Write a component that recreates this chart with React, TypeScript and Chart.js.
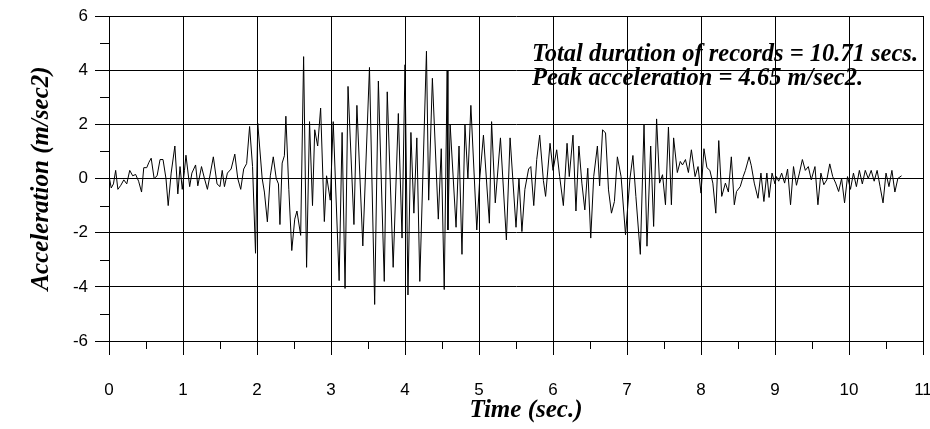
import React, { useEffect, useRef } from 'react';
import { Chart, registerables } from 'chart.js';

Chart.register(...registerables);

// Time of each recorded vertex (sec.)
const timeSec = [
  0.0, 0.03, 0.06, 0.09, 0.12, 0.16, 0.2, 0.24, 0.28, 0.32, 0.36, 0.4, 0.44, 0.47, 0.51, 0.54, 0.57, 0.61, 0.65, 0.69,
  0.73, 0.77, 0.8, 0.84, 0.89, 0.93, 0.96, 0.99, 1.02, 1.04, 1.09, 1.12, 1.17, 1.2, 1.25, 1.29, 1.33, 1.41, 1.46, 1.5,
  1.53, 1.56, 1.6, 1.65, 1.7, 1.74, 1.78, 1.82, 1.86, 1.9, 1.94, 1.98, 2.01, 2.07, 2.1, 2.14, 2.18, 2.22, 2.26, 2.29,
  2.31, 2.34, 2.37, 2.39, 2.43, 2.47, 2.51, 2.54, 2.59, 2.63, 2.67, 2.71, 2.75, 2.78, 2.82, 2.86, 2.91, 2.94, 2.99, 3.03,
  3.11, 3.15, 3.19, 3.23, 3.31, 3.35, 3.43, 3.52, 3.59, 3.64, 3.72, 3.76, 3.84, 3.91, 3.96, 4.0, 4.04, 4.08, 4.12, 4.16,
  4.2, 4.29, 4.32, 4.37, 4.45, 4.49, 4.53, 4.57, 4.58, 4.61, 4.69, 4.73, 4.77, 4.81, 4.85, 4.89, 4.97, 5.01, 5.06, 5.14,
  5.17, 5.22, 5.29, 5.37, 5.42, 5.5, 5.54, 5.58, 5.62, 5.67, 5.7, 5.74, 5.78, 5.82, 5.87, 5.9, 5.96, 6.0, 6.05, 6.09,
  6.14, 6.19, 6.22, 6.27, 6.31, 6.35, 6.39, 6.43, 6.47, 6.51, 6.55, 6.6, 6.63, 6.67, 6.71, 6.75, 6.79, 6.83, 6.87, 6.92,
  6.98, 7.04, 7.08, 7.12, 7.18, 7.23, 7.27, 7.32, 7.36, 7.4, 7.44, 7.48, 7.52, 7.56, 7.6, 7.63, 7.68, 7.72, 7.75, 7.79,
  7.83, 7.87, 7.92, 7.96, 8.0, 8.04, 8.08, 8.12, 8.16, 8.2, 8.24, 8.28, 8.33, 8.37, 8.41, 8.45, 8.48, 8.53, 8.57, 8.6,
  8.65, 8.68, 8.72, 8.77, 8.81, 8.85, 8.89, 8.92, 8.96, 9.0, 9.02, 9.05, 9.09, 9.13, 9.17, 9.21, 9.25, 9.29, 9.33, 9.37,
  9.41, 9.45, 9.49, 9.54, 9.58, 9.62, 9.66, 9.7, 9.74, 9.78, 9.82, 9.86, 9.9, 9.94, 9.98, 10.02, 10.06, 10.1, 10.14, 10.18,
  10.22, 10.26, 10.3, 10.34, 10.38, 10.42, 10.46, 10.5, 10.54, 10.58, 10.62, 10.66, 10.71,
];

// Ground acceleration at each vertex (m/sec2)
const accel = [
  0.1, -0.35, -0.2, 0.3, -0.4, -0.25, -0.05, -0.2, 0.3, 0.1, 0.15, -0.1, -0.5, 0.4, 0.4, 0.6, 0.75, 0.0, 0.1, 0.7,
  0.7, 0.0, -1.0, 0.2, 1.2, -0.57, 0.44, -0.4, 0.3, 0.86, -0.3, 0.2, 0.5, -0.27, 0.44, 0.0, -0.4, 0.8, -0.2, -0.3,
  0.3, -0.3, 0.2, 0.35, 0.9, 0.0, -0.4, 0.35, 0.55, 1.92, 0.44, -2.76, 2.04, 0.0, -0.5, -1.6, 0.1, 0.8, 0.0, -0.2,
  -1.7, 0.57, 0.84, 2.3, -0.4, -2.66, -1.5, -1.2, -2.1, 4.5, -3.28, 2.1, -1.0, 1.8, 1.2, 2.6, -1.59, 0.1, -0.8, 2.1,
  -3.77, 1.7, -4.06, 3.4, -1.7, 2.7, -2.49, 4.1, -4.65, 3.6, -3.8, 3.2, -3.28, 2.4, -2.2, 4.2, -4.3, 1.7, -1.28, 1.5,
  -3.8, 4.7, -0.8, 3.7, -1.5, 1.1, -4.1, 4.0, -1.9, 2.0, -1.8, 1.2, -2.8, 2.0, 0.0, 2.7, -1.9, 0.0, 1.6, -1.65,
  2.1, -0.9, 1.5, -2.27, 1.5, -1.8, 0.0, -1.96, -0.4, 0.35, 0.44, -1.0, 0.7, 1.6, -0.07, -0.66, 1.3, 0.3, 1.06, 0.07,
  -1.0, 1.3, 0.07, 1.6, -1.2, 1.2, -0.17, -1.16, 0.38, -2.2, 0.07, 1.2, -0.27, 1.8, 1.68, -0.42, -1.28, -0.85, 0.8, 0.07,
  -2.08, 0.0, 0.85, -0.66, -2.8, 2.0, -2.5, 1.2, -1.77, 2.2, -0.17, 0.14, -0.97, 1.9, -0.97, 1.5, 0.22, 0.63, 0.5, 0.7,
  0.22, 1.06, 0.07, 0.44, -0.54, 1.1, 0.4, 0.3, -0.17, -1.28, 1.4, -0.66, -0.17, -0.5, 0.8, -0.97, -0.48, -0.3, 0.07, 0.3,
  0.8, 0.47, -0.17, -0.73, 0.2, -0.85, 0.2, -0.7, 0.2, -0.2, 0.07, -0.1, 0.2, -0.17, 0.35, -0.97, 0.44, -0.25, 0.2, 0.7,
  0.3, 0.44, -0.05, 0.44, -0.97, 0.2, -0.23, -0.05, 0.54, 0.07, -0.17, -0.48, 0.0, -0.9, 0.07, -0.4, 0.2, -0.3, 0.3, -0.2,
  0.3, 0.0, 0.3, -0.1, 0.3, -0.3, -0.9, 0.2, -0.3, 0.3, -0.5, 0.0, 0.1,
];

const xMinorTicks = [0.5, 1.5, 2.5, 3.5, 4.5, 5.5, 6.5, 7.5, 8.5, 9.5, 10.5];
const yMinorTicks = [-5, -3, -1, 1, 3, 5];
const xTitle = 'Time (sec.)';
const yTitle = 'Acceleration (m/sec2)';
const noteLines = ['Total duration of records = 10.71 secs.', 'Peak acceleration = 4.65 m/sec2.'];

const SERIF = '"Liberation Serif", "Times New Roman", serif';

const overlay = {
  id: 'overlay',
  afterDraw(chart: any) {
    const { ctx, chartArea, scales } = chart;
    const xs = scales.x;
    const ys = scales.y;
    ctx.save();
    ctx.strokeStyle = '#000';
    ctx.lineWidth = 1;
    ctx.beginPath();
    for (const v of yMinorTicks) {
      const py = Math.round(ys.getPixelForValue(v)) + 0.5;
      ctx.moveTo(chartArea.left - 9, py);
      ctx.lineTo(chartArea.left, py);
    }
    for (const v of xMinorTicks) {
      const px = Math.round(xs.getPixelForValue(v)) + 0.5;
      ctx.moveTo(px, chartArea.bottom);
      ctx.lineTo(px, chartArea.bottom + 8);
    }
    ctx.stroke();
    ctx.fillStyle = '#000';
    // annotation
    ctx.font = 'italic bold 24.5px ' + SERIF;
    ctx.textAlign = 'left';
    ctx.textBaseline = 'alphabetic';
    ctx.fillText(noteLines[0], 532, 61);
    ctx.fillText(noteLines[1], 532, 85);
    // x axis title
    ctx.font = 'italic bold 25px ' + SERIF;
    ctx.textAlign = 'center';
    ctx.textBaseline = 'middle';
    ctx.fillText(xTitle, (chartArea.left + chartArea.right) / 2 + 10, 411);
    ctx.restore();
  },
};

export default function App() {
  const canvasRef = useRef<HTMLCanvasElement | null>(null);

  useEffect(() => {
    if (!canvasRef.current) return;
    const points = timeSec.map((t, i) => ({ x: t, y: accel[i] }));
    const tickFont = { family: '"Liberation Sans", Arial, sans-serif', size: 17 };
    const titleFont = { family: SERIF, size: 25, style: 'italic' as const, weight: 'bold' as const };
    const chart = new Chart(canvasRef.current, {
      type: 'line',
      data: {
        datasets: [
          {
            data: points,
            borderColor: '#000',
            borderWidth: 1,
            pointRadius: 0,
            tension: 0,
            fill: false,
          },
        ],
      },
      options: {
        animation: false,
        responsive: false,
        devicePixelRatio: 1,
        layout: { padding: { top: 16, right: 7, left: 0, bottom: 0 } },
        plugins: { legend: { display: false }, tooltip: { enabled: false } },
        scales: {
          x: {
            type: 'linear',
            min: 0,
            max: 11,
            ticks: { stepSize: 1, autoSkip: false, maxRotation: 0, color: '#000', font: tickFont, padding: 25 },
            grid: { color: '#000', lineWidth: 1, tickLength: 14, tickColor: '#000' },
            border: { display: true, color: '#000', width: 1 },
            title: { display: false },
            afterFit: (scale: any) => {
              scale.height = 88;
              scale.paddingLeft = 0;
              scale.paddingRight = 0;
            },
          },
          y: {
            min: -6,
            max: 6,
            ticks: { stepSize: 2, color: '#000', font: tickFont, padding: 7 },
            grid: { color: '#000', lineWidth: 1, tickLength: 14, tickColor: '#000' },
            border: { display: true, color: '#000', width: 1 },
            title: { display: true, text: yTitle, color: '#000', font: titleFont, padding: { top: 27, bottom: 0 } },
            afterFit: (scale: any) => {
              scale.width = 109;
              scale.paddingTop = 0;
              scale.paddingBottom = 0;
            },
          },
        },
      },
      plugins: [overlay],
    });
    return () => chart.destroy();
  }, []);

  return (
    <div style={{ position: 'absolute', left: 0, top: 0, width: 930, height: 429, background: '#fff' }}>
      <canvas ref={canvasRef} width={930} height={429} />
    </div>
  );
}
